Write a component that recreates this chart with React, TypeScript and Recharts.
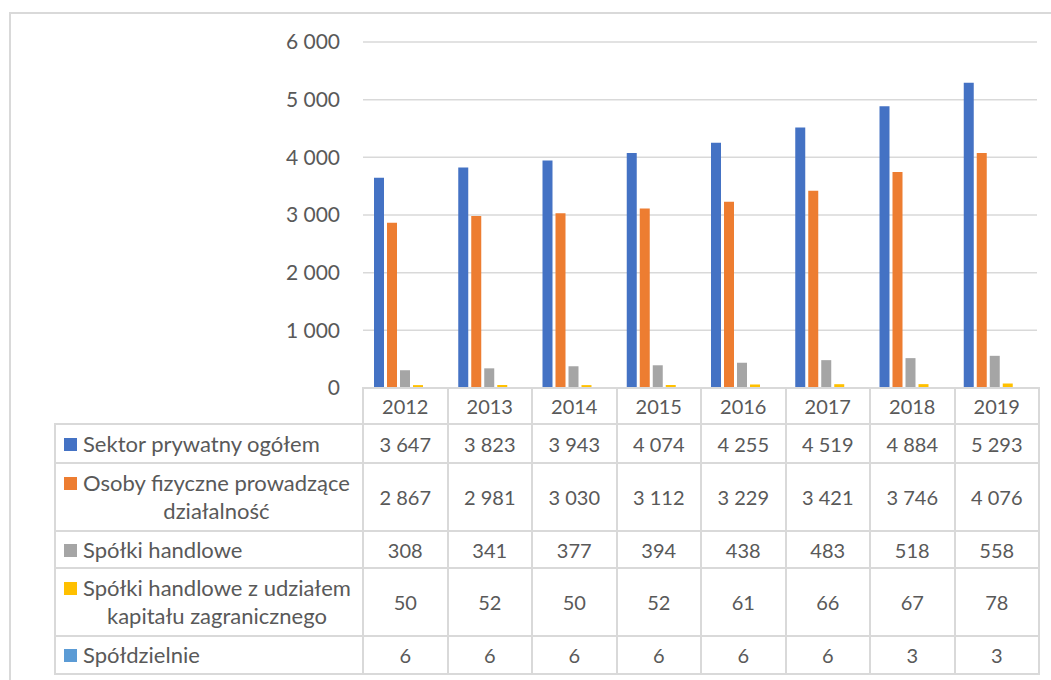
import { BarChart, Bar, XAxis, YAxis, CartesianGrid } from "recharts";

const YEARS = ["2012", "2013", "2014", "2015", "2016", "2017", "2018", "2019"];
const SEKTOR = [3647, 3823, 3943, 4074, 4255, 4519, 4884, 5293];
const OSOBY = [2867, 2981, 3030, 3112, 3229, 3421, 3746, 4076];
const SPOLKI = [308, 341, 377, 394, 438, 483, 518, 558];
const ZAGR = [50, 52, 50, 52, 61, 66, 67, 78];
const SPOLDZ = [6, 6, 6, 6, 6, 6, 3, 3];
const Y_TICKS = [0, 1000, 2000, 3000, 4000, 5000, 6000];

const SERIES = [
  { key: "sektor", name: "Sektor prywatny ogółem", values: SEKTOR, color: "#4472C4" },
  { key: "osoby", name: "Osoby fizyczne prowadzące\ndziałalność", values: OSOBY, color: "#ED7D31" },
  { key: "spolki", name: "Spółki handlowe", values: SPOLKI, color: "#A5A5A5" },
  { key: "zagr", name: "Spółki handlowe z udziałem\nkapitału zagranicznego", values: ZAGR, color: "#FFC000" },
  { key: "spoldz", name: "Spółdzielnie", values: SPOLDZ, color: "#5B9BD5" },
];

const FONT = "Lato, 'Noto Sans', sans-serif";
const TEXT = "#595959";
const LINE = "#d9d9d9";
const ROW_H = [39, 68, 37, 68, 38];

const fmt = (v: number) => String(v).replace(/\B(?=(\d{3})+(?!\d))/g, " ");

export default function App() {
  const data = YEARS.map((year, i) => {
    const row: Record<string, string | number> = { year };
    SERIES.forEach((s) => (row[s.key] = s.values[i]));
    return row;
  });

  const cell = { border: `2px solid ${LINE}`, padding: 0, textAlign: "center" as const, fontSize: 20 };

  return (
    <div style={{ position: "absolute", left: 0, top: 0, width: 1051, height: 680, overflow: "hidden", background: "#fff", fontFamily: FONT, color: TEXT }}>
      <div style={{ position: "absolute", left: 9, top: 12, width: 1100, height: 720, border: `2px solid ${LINE}` }} />
      <div style={{ position: "absolute", left: 0, top: 0 }}>
        <BarChart width={1051} height={680} data={data} margin={{ top: 42, right: 14, bottom: 292, left: 0 }} barSize={10} barGap={3}>
          <CartesianGrid vertical={false} stroke={LINE} strokeWidth={1.5} />
          <XAxis dataKey="year" hide />
          <YAxis
            width={363}
            domain={[0, 6000]}
            ticks={Y_TICKS}
            tickLine={false}
            axisLine={false}
            tickSize={0}
            tickMargin={23}
            tick={{ fill: TEXT, fontSize: 21, fontFamily: FONT }}
            tickFormatter={fmt}
          />
          {SERIES.map((s) => (
            <Bar key={s.key} dataKey={s.key} name={s.name} fill={s.color} isAnimationActive={false} />
          ))}
        </BarChart>
      </div>
      <table style={{ position: "absolute", left: 54, top: 387, borderCollapse: "collapse", tableLayout: "fixed", width: 984 }}>
        <colgroup>
          <col style={{ width: 308 }} />
          {YEARS.map((y) => <col key={y} style={{ width: 84.5 }} />)}
        </colgroup>
        <tbody>
          <tr style={{ height: 36 }}>
            <td style={{ border: "none", padding: 0 }} />
            {YEARS.map((y) => <td key={y} style={cell}>{y}</td>)}
          </tr>
          {SERIES.map((s, r) => (
            <tr key={s.key} style={{ height: ROW_H[r] }}>
              <td style={{ ...cell, textAlign: "left", paddingLeft: 8, fontSize: 22 }}>
                <div style={{ display: "flex", alignItems: "flex-start" }}>
                  <span style={{ width: 13, height: 13, background: s.color, marginTop: 8, marginRight: 6, flex: "none" }} />
                  <span style={{ whiteSpace: "pre-line", textAlign: "center", lineHeight: "28px" }}>{s.name}</span>
                </div>
              </td>
              {s.values.map((v, i) => <td key={i} style={cell}>{fmt(v)}</td>)}
            </tr>
          ))}
        </tbody>
      </table>
    </div>
  );
}
